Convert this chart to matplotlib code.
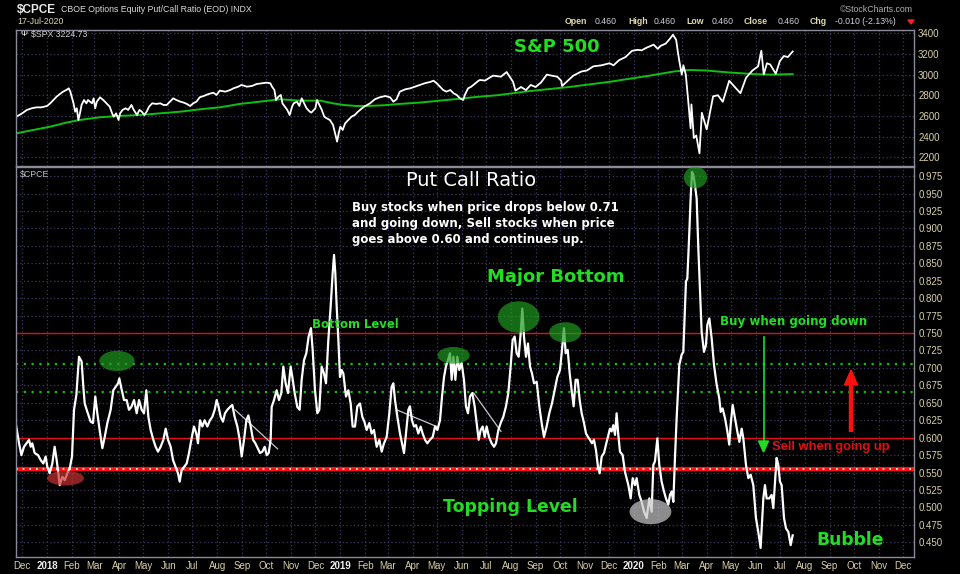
import numpy as np
import pandas as pd
import matplotlib
matplotlib.use("Agg")
import matplotlib.pyplot as plt
import matplotlib.dates as mdates
from matplotlib.patches import Ellipse, Polygon

BASE = pd.Timestamp("2018-01-01")

# S&P 500 close (days after 2018-01-01)
spx_day = [-38, -31, -25, -19, -13, -7, 0, 4, 8, 12, 16, 20, 24, 27, 29, 33, 35, 37, 39, 41,
           43, 46, 49, 51, 56, 58, 60, 62, 66, 70, 74, 78, 81, 83, 86, 89, 91, 94, 98, 101,
           105, 108, 112, 115, 118, 121, 124, 127, 131, 136, 141, 145, 149, 153, 157, 161, 166, 170, 174, 178,
           182, 186, 190, 195, 201, 207, 211, 215, 222, 228, 232, 238, 242, 249, 255, 261, 267, 273, 278, 280,
           283, 285, 288, 291, 293, 296, 299, 302, 305, 307, 311, 314, 317, 320, 323, 327, 329, 334, 336, 339,
           342, 345, 348, 352, 356, 358, 361, 363, 365, 368, 371, 375, 379, 383, 387, 392, 396, 402, 408, 414,
           421, 427, 431, 435, 439, 446, 452, 458, 464, 470, 477, 481, 485, 489, 493, 497, 502, 506, 510, 514,
           518, 520, 524, 528, 533, 537, 539, 545, 555, 565, 572, 580, 583, 590, 596, 602, 608, 615, 622, 628,
           635, 640, 641, 648, 655, 665, 672, 680, 690, 700, 705, 712, 720, 728, 735, 740, 746, 752, 755, 760,
           764, 770, 775, 779, 783, 785, 787, 790, 792, 795, 798, 801, 802, 805, 808, 812, 815, 821, 829, 835,
           841, 849, 856, 863, 870, 878, 885, 889, 892, 896, 900, 907, 912, 917, 922, 928]
spx_val = [2593, 2625, 2658, 2674, 2683, 2683, 2696, 2722, 2754, 2787, 2812, 2835, 2851, 2867, 2835, 2722, 2641, 2674, 2561, 2625,
           2706, 2754, 2722, 2754, 2722, 2770, 2674, 2738, 2780, 2754, 2722, 2690, 2625, 2593, 2625, 2561, 2625, 2658, 2674, 2658,
           2706, 2658, 2609, 2658, 2641, 2609, 2641, 2690, 2722, 2716, 2722, 2706, 2706, 2738, 2770, 2754, 2738, 2729, 2716, 2696,
           2722, 2738, 2780, 2793, 2812, 2825, 2803, 2845, 2835, 2851, 2867, 2883, 2900, 2883, 2890, 2909, 2916, 2922, 2916, 2883,
           2851, 2754, 2787, 2803, 2722, 2690, 2658, 2609, 2690, 2722, 2738, 2696, 2770, 2722, 2674, 2641, 2632, 2674, 2754, 2706,
           2658, 2593, 2577, 2561, 2512, 2448, 2351, 2432, 2496, 2464, 2528, 2561, 2593, 2609, 2641, 2674, 2696, 2722, 2761, 2780,
           2793, 2780, 2738, 2761, 2835, 2858, 2867, 2883, 2900, 2916, 2929, 2941, 2916, 2883, 2851, 2835, 2851, 2819, 2803, 2770,
           2754, 2803, 2867, 2883, 2916, 2941, 2948, 2942, 2990, 2980, 3025, 2930, 2845, 2880, 2850, 2900, 2880, 2925, 3000, 2990,
           2980, 2940, 2890, 2940, 2990, 3030, 3040, 3080, 3090, 3110, 3090, 3140, 3170, 3230, 3240, 3235, 3260, 3280, 3290, 3250,
           3280, 3300, 3345, 3386, 3337, 3225, 3128, 3000, 3090, 3000, 2746, 2480, 2711, 2386, 2410, 2237, 2630, 2470, 2790, 2800,
           2737, 2940, 2880, 2820, 2970, 3040, 3080, 3232, 3002, 3110, 3098, 3009, 3130, 3180, 3170, 3224]

# 200-day moving average of the S&P 500
ma_day = [-38, -17, 4, 24, 41, 66, 91, 116, 141, 166, 190, 215, 240, 265, 282, 290, 315, 340, 356, 369,
          385, 398, 419, 439, 464, 489, 514, 539, 560, 600, 650, 700, 750, 780, 800, 820, 850, 880, 900, 928]
ma_val = [2432, 2464, 2496, 2535, 2561, 2587, 2600, 2609, 2625, 2641, 2664, 2683, 2716, 2738, 2754, 2761, 2748, 2748, 2722, 2706,
          2696, 2696, 2703, 2716, 2729, 2748, 2767, 2787, 2800, 2840, 2880, 2930, 2990, 3030, 3045, 3040, 3020, 3005, 3000, 3005]

# CBOE equity put/call ratio
cpce_day = [-39.0, -34.8, -31.9, -28.6, -22.4, -20.3, -18.3, -15.4, -11.2, -7.9, -4.6, -1.7, 0.4, 3.3, 6.6, 9.5, 12.0, 14.1, 15.8, 19.1,
            22.0, 25.3, 28.6, 31.1, 33.6, 36.5, 39.8, 43.1, 45.2, 46.9, 50.2, 54.3, 57.2, 60.1, 62.6, 65.5, 68.9, 71.8, 75.1, 79.2,
            82.5, 85.5, 88.4, 90.0, 92.5, 95.8, 99.1, 102.0, 104.9, 108.3, 111.6, 114.5, 117.8, 120.7, 123.6, 126.1, 129.0, 132.3, 135.2, 138.1,
            141.4, 144.8, 147.7, 150.6, 153.9, 156.8, 160.1, 163.0, 165.1, 167.6, 170.5, 173.8, 176.7, 179.6, 182.9, 185.8, 187.9, 190.4, 193.3, 196.2,
            199.5, 202.8, 205.8, 208.7, 211.1, 213.6, 216.1, 219.0, 221.5, 224.4, 227.7, 230.6, 233.5, 236.9, 239.8, 242.3, 245.2, 248.1, 250.6, 253.5,
            256.4, 259.3, 262.2, 265.1, 268.0, 270.9, 273.4, 275.9, 278.3, 279.6, 282.5, 285.8, 288.7, 291.6, 294.1, 297.0, 299.9, 303.2, 305.3, 308.2,
            311.5, 314.4, 316.9, 319.8, 322.7, 325.6, 328.5, 330.6, 333.5, 336.4, 338.9, 341.8, 344.7, 347.2, 350.1, 353.0, 355.5, 357.2, 358.8, 360.5,
            362.6, 364.6, 366.7, 368.8, 372.1, 375.0, 377.9, 380.4, 383.3, 386.2, 389.5, 392.4, 394.9, 397.8, 401.1, 404.0, 406.9, 410.3, 413.6, 416.5,
            419.4, 422.7, 426.0, 428.9, 431.0, 433.1, 436.0, 439.3, 441.8, 444.3, 446.8, 449.7, 451.7, 454.2, 456.7, 459.2, 462.1, 465.0, 467.5, 470.4,
            473.3, 476.6, 480.0, 482.9, 485.8, 489.1, 491.6, 494.1, 496.5, 499.0, 501.5, 503.6, 505.7, 508.2, 510.6, 513.1, 516.0, 518.9, 521.4, 523.9,
            526.4, 529.3, 532.2, 534.7, 537.2, 539.7, 542.2, 544.7, 547.1, 550.1, 553.4, 556.3, 558.8, 561.7, 564.6, 567.9, 571.2, 574.1, 577.0, 579.5,
            582.0, 584.5, 587.0, 589.5, 591.5, 593.6, 596.1, 598.6, 601.1, 603.6, 606.1, 609.4, 612.7, 615.6, 618.5, 621.8, 625.1, 628.4, 631.8, 635.1,
            638.4, 640.9, 643.4, 645.5, 648.0, 650.5, 652.9, 655.4, 657.9, 660.4, 662.9, 665.4, 668.3, 670.8, 673.3, 675.7, 678.2, 680.7, 683.2, 685.7,
            687.8, 690.3, 693.2, 696.5, 700.6, 702.7, 704.8, 706.9, 708.9, 711.0, 713.1, 716.4, 719.3, 723.5, 726.4, 728.9, 731.8, 733.8, 737.1, 740.1,
            743.0, 746.3, 749.6, 752.5, 754.6, 756.6, 759.6, 762.0, 764.9, 767.8, 770.3, 773.2, 775.3, 777.4, 779.5, 781.5, 783.6, 786.9, 789.8, 791.9,
            795.2, 796.9, 799.4, 801.0, 802.7, 804.3, 806.4, 808.5, 810.6, 812.6, 814.7, 817.6, 820.1, 821.8, 824.3, 827.2, 830.1, 833.4, 836.7, 838.4,
            840.8, 843.8, 846.7, 849.1, 850.8, 853.3, 856.2, 859.1, 861.6, 864.5, 866.6, 869.9, 872.8, 875.7, 879.0, 882.3, 885.2, 888.1, 891.5, 893.5,
            895.6, 898.9, 901.8, 903.9, 906.0, 908.0, 910.1, 912.2, 914.3, 917.2, 919.7, 922.6, 925.5, 928.0]
cpce_val = [0.621, 0.592, 0.575, 0.587, 0.597, 0.587, 0.592, 0.578, 0.575, 0.568, 0.563, 0.573, 0.558, 0.549, 0.563, 0.587, 0.568, 0.549, 0.532, 0.544,
            0.539, 0.549, 0.558, 0.573, 0.640, 0.661, 0.716, 0.709, 0.673, 0.649, 0.637, 0.623, 0.621, 0.659, 0.635, 0.611, 0.585, 0.601, 0.621, 0.640,
            0.668, 0.673, 0.678, 0.685, 0.671, 0.654, 0.654, 0.640, 0.644, 0.654, 0.635, 0.654, 0.640, 0.635, 0.668, 0.630, 0.611, 0.597, 0.587, 0.580,
            0.587, 0.597, 0.613, 0.597, 0.587, 0.568, 0.558, 0.549, 0.537, 0.554, 0.558, 0.563, 0.578, 0.597, 0.616, 0.606, 0.592, 0.625, 0.616, 0.625,
            0.616, 0.625, 0.630, 0.640, 0.654, 0.644, 0.630, 0.623, 0.635, 0.640, 0.644, 0.647, 0.630, 0.616, 0.597, 0.573, 0.597, 0.625, 0.632, 0.616,
            0.597, 0.592, 0.585, 0.578, 0.580, 0.587, 0.575, 0.578, 0.597, 0.644, 0.654, 0.668, 0.654, 0.664, 0.702, 0.678, 0.664, 0.702, 0.687, 0.664,
            0.644, 0.640, 0.683, 0.711, 0.721, 0.745, 0.757, 0.726, 0.668, 0.635, 0.640, 0.702, 0.692, 0.678, 0.740, 0.788, 0.836, 0.862, 0.836, 0.788,
            0.740, 0.687, 0.697, 0.692, 0.659, 0.668, 0.649, 0.616, 0.616, 0.645, 0.649, 0.630, 0.623, 0.611, 0.621, 0.606, 0.611, 0.587, 0.597, 0.580,
            0.592, 0.601, 0.635, 0.673, 0.678, 0.654, 0.630, 0.606, 0.592, 0.578, 0.606, 0.640, 0.645, 0.625, 0.616, 0.618, 0.606, 0.616, 0.606, 0.597,
            0.592, 0.597, 0.601, 0.616, 0.611, 0.625, 0.659, 0.687, 0.702, 0.711, 0.721, 0.683, 0.716, 0.683, 0.716, 0.697, 0.707, 0.683, 0.645, 0.635,
            0.659, 0.664, 0.645, 0.621, 0.597, 0.611, 0.616, 0.601, 0.616, 0.601, 0.592, 0.587, 0.592, 0.611, 0.621, 0.630, 0.645, 0.664, 0.702, 0.740,
            0.745, 0.721, 0.716, 0.750, 0.785, 0.745, 0.716, 0.735, 0.702, 0.692, 0.678, 0.680, 0.645, 0.621, 0.601, 0.616, 0.635, 0.649, 0.668, 0.687,
            0.697, 0.726, 0.757, 0.721, 0.726, 0.692, 0.668, 0.645, 0.683, 0.683, 0.654, 0.635, 0.621, 0.606, 0.601, 0.597, 0.592, 0.597, 0.582, 0.558,
            0.549, 0.573, 0.578, 0.594, 0.613, 0.609, 0.618, 0.604, 0.635, 0.604, 0.580, 0.575, 0.551, 0.532, 0.513, 0.542, 0.532, 0.542, 0.518, 0.508,
            0.494, 0.485, 0.513, 0.494, 0.561, 0.566, 0.599, 0.561, 0.537, 0.523, 0.513, 0.504, 0.518, 0.523, 0.508, 0.571, 0.628, 0.704, 0.719, 0.723,
            0.824, 0.828, 0.895, 0.943, 0.981, 0.977, 0.962, 0.943, 0.871, 0.814, 0.752, 0.723, 0.733, 0.762, 0.771, 0.742, 0.704, 0.676, 0.656, 0.637,
            0.642, 0.628, 0.609, 0.590, 0.618, 0.647, 0.628, 0.609, 0.594, 0.613, 0.599, 0.561, 0.542, 0.547, 0.532, 0.485, 0.465, 0.442, 0.513, 0.532,
            0.513, 0.513, 0.518, 0.499, 0.537, 0.571, 0.561, 0.537, 0.532, 0.485, 0.470, 0.465, 0.446, 0.460]

# signal levels on the ratio panel
buy_level = 0.75
green_levels = [0.706, 0.666]
sell_level = 0.60
top_level = 0.555

# hand-drawn trend lines: (start day, start value, end day, end value)
trend_lines = [(234, 0.640, 287, 0.584), (435, 0.640, 485, 0.616), (531, 0.664, 565, 0.609)]

# circled spots: (day, value, width days, height, face colour)
circles = [(87, 0.710, 44, 0.029, "#1f9a1f"), (23, 0.542, 46, 0.021, "#c83232"),
           (506, 0.718, 40, 0.024, "#1f9a1f"), (587, 0.773, 52, 0.045, "#1f9a1f"),
           (645, 0.751, 40, 0.029, "#1f9a1f"), (807, 0.973, 29, 0.031, "#1f9a1f"),
           (751, 0.494, 52, 0.036, "#c8c8c8")]


def days(d):
    return BASE + pd.to_timedelta(np.asarray(d, dtype=float), unit="D")


W, H = 960, 574
BG = "black"
GRID = "#3a3a62"
TICKC = "#d8d0a8"
GREEN = "#22dd22"
RED = "#e01010"
NOTE = "DejaVu Sans"   # wide, Verdana-like face for the hand annotations


def rect(l, t, r, b):
    return [l / W, 1 - b / H, (r - l) / W, (b - t) / H]


fig = plt.figure(figsize=(W / 100, H / 100), dpi=100, facecolor=BG)
plt.rcParams["font.family"] = ["Liberation Sans", "DejaVu Sans"]

ax_top = fig.add_axes(rect(16, 30, 914, 166))
ax_bot = fig.add_axes(rect(16, 167, 914, 557), sharex=ax_top)

months = pd.date_range("2017-12-01", "2020-12-01", freq="MS")
labels = [str(m.year) if m.month == 1 else m.strftime("%b") for m in months]

for ax in (ax_top, ax_bot):
    ax.set_facecolor(BG)
    for s in ax.spines.values():
        s.set_color("#8a8a9a")
        s.set_linewidth(1.0)
    ax.grid(True, color=GRID, linestyle=(0, (1, 2)), linewidth=0.9)
    ax.yaxis.tick_right()
    ax.tick_params(axis="both", length=0, colors=TICKC, labelsize=7, pad=3)
    ax.set_xticks(months)

ax_top.set_xlim(BASE - pd.Timedelta(days=38.6), BASE + pd.Timedelta(days=1079))
ax_top.tick_params(axis="x", labelbottom=False)
ax_bot.set_xticklabels(labels)
for lab in ax_bot.get_xticklabels():
    if lab.get_text().isdigit():
        lab.set_fontweight("bold")
        lab.set_color("#eeeeee")

# upper panel: S&P 500
ax_top.plot(days(ma_day), ma_val, color="#10c010", lw=1.4)
ax_top.plot(days(spx_day), spx_val, color="white", lw=1.3)
ax_top.set_ylim(2115, 3432)
ax_top.set_yticks(np.arange(2200, 3401, 200))
ax_top.set_yticklabels([str(v) for v in np.arange(2200, 3401, 200)])

# lower panel: put/call ratio
ax_bot.axhline(buy_level, color=RED, lw=1.0)
for lv in green_levels:
    ax_bot.axhline(lv, color="#10c010", lw=1.6, linestyle=(0, (1, 2.5)))
ax_bot.axhline(sell_level, color=RED, lw=1.0)
ax_bot.axhline(top_level, color="#ff1010", lw=3.0)
ax_bot.axhline(top_level, color="white", lw=1.2, linestyle=(0, (1, 3)))
for d0, v0, d1, v1 in trend_lines:
    ax_bot.plot(days([d0, d1]), [v0, v1], color="#c8c8c8", lw=0.9)
ax_bot.plot(days(cpce_day), cpce_val, color="white", lw=1.6)
for d, v, w, h, c in circles:
    cx = mdates.date2num(days([d])[0])
    ax_bot.add_patch(Ellipse((cx, v), w, h, facecolor=c, edgecolor="none", alpha=0.7, zorder=4))
ax_bot.set_ylim(0.429, 0.988)
ticks = np.arange(0.45, 0.976, 0.025)
ax_bot.set_yticks(ticks)
ax_bot.set_yticklabels([f"{t:.3f}" for t in ticks])

# overlay in pixel space for headings and arrows
ov = fig.add_axes([0, 0, 1, 1])
ov.set_xlim(0, W)
ov.set_ylim(H, 0)
ov.axis("off")
ov.patch.set_alpha(0)

ov.text(17, 10, "$CPCE", color="#e8e8e8", fontsize=8.5, fontweight="bold", va="center")
ov.text(61, 10, "CBOE Options Equity Put/Call Ratio (EOD) INDX", color="#d8d8d8", fontsize=6.3, va="center")
ov.text(17, 22, "17-Jul-2020", color="#e0d8b0", fontsize=6.3, va="center")
ov.text(913, 9, "©StockCharts.com", color="#b0b0b0", fontsize=6.3, va="center", ha="right")
hdr = [(565, "Open", True), (595, "0.460", False), (628, "High", True), (654, "0.460", False),
       (686, "Low", True), (712, "0.460", False), (744, "Close", True), (778, "0.460", False),
       (810, "Chg", True), (835, "-0.010 (-2.13%)", False)]
for x, t, b in hdr:
    ov.text(x, 22, t, color="#e0d8b0" if b else "#d0d0d0", fontsize=6.3,
            fontweight="bold" if b else "normal", va="center")
ov.add_patch(Polygon([[908, 20], [914, 20], [911, 24]], closed=True, color="#ff2020"))

ov.text(20, 35, "Ψ", color="white", fontsize=6, va="center")
ov.text(31, 35, "$SPX 3224.73", color="#d0d0d0", fontsize=6.3, va="center")
ov.text(20, 174, "$CPCE", color="#c0c0c0", fontsize=6.3, va="center")

ov.text(557, 47, "S&P 500", color=GREEN, fontsize=13, fontweight="bold", va="center", ha="center", family=NOTE)
ov.text(471, 180, "Put Call Ratio", color="white", fontsize=14, va="center", ha="center", family=NOTE)
for y, t in [(207, "Buy stocks when price drops below 0.71"),
             (224, "and going down, Sell stocks when price"),
             (240, "goes above 0.60 and continues up.")]:
    ov.text(352, y, t, color="white", fontsize=8.5, fontweight="bold", va="center", family=NOTE)
ov.text(556, 277, "Major Bottom", color=GREEN, fontsize=13, fontweight="bold", va="center", ha="center", family=NOTE)
ov.text(355, 324, "Bottom Level", color=GREEN, fontsize=8.4, fontweight="bold", va="center", ha="center", family=NOTE)
ov.text(794, 322, "Buy when going down", color=GREEN, fontsize=8.6, fontweight="bold", va="center", ha="center", family=NOTE)
ov.text(831, 447, "Sell when going up", color=RED, fontsize=9.4, fontweight="bold", va="center", ha="center")
ov.text(510, 507, "Topping Level", color=GREEN, fontsize=12.4, fontweight="bold", va="center", ha="center", family=NOTE)
ov.text(850, 540, "Bubble", color=GREEN, fontsize=12.3, fontweight="bold", va="center", ha="center", family=NOTE)

# buy arrow (thin green, pointing down) and sell arrow (thick red, pointing up)
ov.plot([763.5, 763.5], [337, 441], color="#22dd22", lw=1.2)
ov.add_patch(Polygon([[758.5, 441], [768.5, 441], [763.5, 452]], closed=True, color="#22dd22"))
ov.plot([851, 851], [432, 384], color="#ff1010", lw=3.2, solid_capstyle="butt")
ov.add_patch(Polygon([[844.5, 385], [857.5, 385], [851, 370]], closed=True, color="#ff1010"))

fig.savefig("out.png", dpi=100, facecolor=BG)
